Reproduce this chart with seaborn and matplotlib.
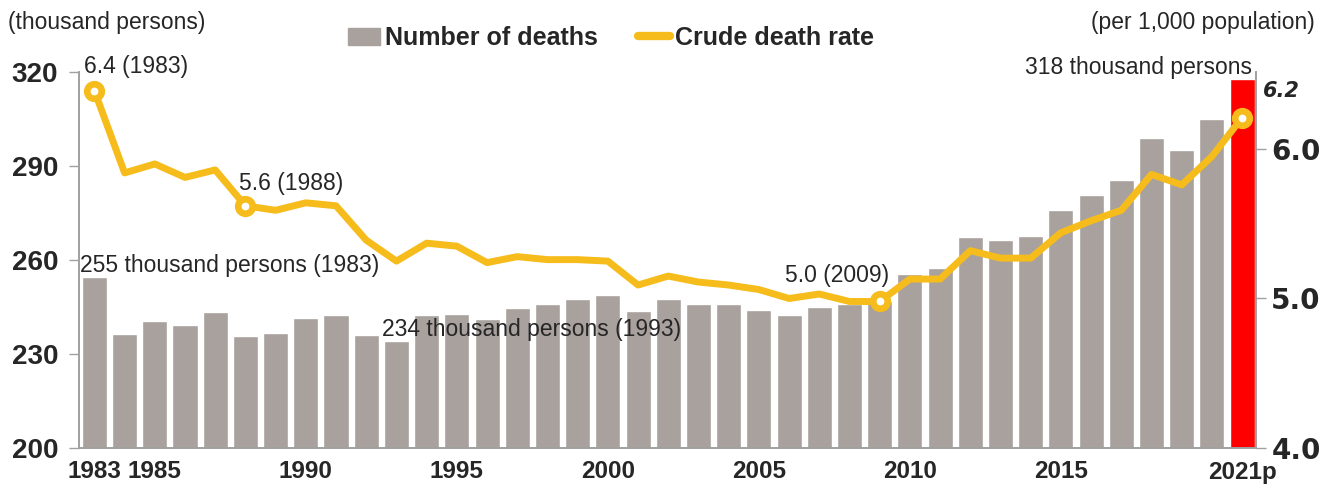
import numpy as np
import matplotlib
matplotlib.use("Agg")
import matplotlib.pyplot as plt
import matplotlib.patches as mpatches
import matplotlib.lines as mlines
import seaborn as sns

# data
years = [str(y) for y in range(1983, 2021)] + ["2021p"]
deaths = [254.6, 236.4, 240.4, 239.3, 243.5, 235.8, 236.8, 241.6, 242.3, 236.2,
          234.3, 242.4, 242.8, 241.1, 244.7, 245.8, 247.7, 248.7, 243.8, 247.5,
          245.8, 245.8, 243.9, 242.3, 244.9, 246.1, 246.9, 255.4, 257.4, 267.2,
          266.3, 267.7, 275.9, 280.8, 285.5, 298.8, 295.1, 304.9, 317.7]
rate = [6.39, 5.84, 5.90, 5.81, 5.86, 5.62, 5.59, 5.64, 5.62, 5.39,
        5.25, 5.37, 5.35, 5.24, 5.28, 5.26, 5.26, 5.25, 5.09, 5.15,
        5.11, 5.09, 5.06, 5.00, 5.03, 4.98, 4.98, 5.13, 5.13, 5.32,
        5.27, 5.27, 5.44, 5.52, 5.59, 5.83, 5.76, 5.95, 6.21]
tick_years = ["1983", "1985", "1990", "1995", "2000", "2005", "2010", "2015", "2021p"]
marked = ["1983", "1988", "2009", "2021p"]

GREY = "#A9A19D"
YELLOW = "#F6BC1B"
RED = "#FF0000"
AXCOL = "#A0A0A0"

sns.set_style("white")
plt.rcParams["font.family"] = ["Liberation Sans", "DejaVu Sans"]

fig = plt.figure(figsize=(13.29, 4.91), dpi=100)
ax = fig.add_axes([79 / 1329, 43 / 491, 1177 / 1329, 376 / 491])
ax2 = ax.twinx()

bar_colors = [GREY] * (len(years) - 1) + [RED]
sns.barplot(x=years, y=deaths, hue=years, palette=bar_colors, legend=False,
            width=0.83, saturation=1, ax=ax, zorder=1)

xpos = np.arange(len(years))
mark_idx = [years.index(m) for m in marked]
sns.lineplot(x=xpos, y=rate, ax=ax2, color=YELLOW, linewidth=5,
             solid_joinstyle="round", solid_capstyle="round",
             marker="o", markevery=mark_idx, markersize=10.5,
             markerfacecolor="white", markeredgecolor=YELLOW, markeredgewidth=4.8)

ax.set_xlim(-0.51, len(years) - 0.54)
ax.set_ylim(200, 320)
ax.set_yticks([200, 230, 260, 290, 320])
ax2.set_ylim(4.0, 6.515)
ax2.set_yticks([4.0, 5.0, 6.0])
ax2.set_yticklabels(["4.0", "5.0", "6.0"])
ax.set_xlabel("")
ax.set_ylabel("")
ax2.set_ylabel("")

ax.set_xticks([years.index(t) for t in tick_years])
ax.set_xticklabels(tick_years, fontsize=17.5, fontweight="bold")
ax.tick_params(axis="x", length=0, pad=9)
ax.tick_params(axis="y", length=7, width=1, color=AXCOL, pad=8, labelsize=20)
for lab in ax.get_yticklabels():
    lab.set_fontweight("bold")
ax2.tick_params(axis="y", length=7, width=1, color=AXCOL, pad=4, labelsize=20)
for lab in ax2.get_yticklabels():
    lab.set_fontweight("bold")
    lab.set_family("DejaVu Sans")

for a in (ax, ax2):
    a.spines["top"].set_visible(False)
    for s in ("left", "right", "bottom"):
        a.spines[s].set_color(AXCOL)
        a.spines[s].set_linewidth(1.2)
ax2.set_zorder(ax.get_zorder() + 1)
ax2.patch.set_visible(False)

# annotations
ann = dict(textcoords="offset pixels", fontsize=16.5, va="center")
ax2.annotate(f"{rate[0]:.1f} ({years[0]})", xy=(0, rate[0]), xytext=(-10, 24), ha="left", **ann)
i = years.index("1988")
ax2.annotate(f"{rate[i]:.1f} (1988)", xy=(i, rate[i]), xytext=(-6, 22), ha="left", **ann)
i = years.index("2009")
ax2.annotate(f"{rate[i]:.1f} (2009)", xy=(i, rate[i]), xytext=(9, 26), ha="right", **ann)
ax.annotate(f"{deaths[0]:.0f} thousand persons (1983)", xy=(0, deaths[0]), xytext=(-14, 11), ha="left", **ann)
i = years.index("1993")
ax.annotate(f"{deaths[i]:.0f} thousand persons (1993)", xy=(i, deaths[i]), xytext=(-14, 11), ha="left", **ann)
ax.annotate(f"{deaths[-1]:.0f} thousand persons", xy=(len(years) - 1, deaths[-1]), xytext=(10, 12), ha="right", **ann)
ax2.annotate(f"{rate[-1]:.1f}", xy=(len(years) - 1, rate[-1]), xytext=(21, 27), ha="left",
             textcoords="offset pixels", fontsize=15, va="center", fontweight="bold",
             style="italic", family="DejaVu Sans")

fig.text(8 / 1329, 1 - 22 / 491, "(thousand persons)", fontsize=16.5, ha="left", va="center")
fig.text(1315 / 1329, 1 - 22 / 491, "(per 1,000 population)", fontsize=16.5, ha="right", va="center")

handles = [mpatches.Patch(color=GREY, label="Number of deaths"),
           mlines.Line2D([], [], color=YELLOW, linewidth=6, solid_capstyle="round",
                         label="Crude death rate")]
fig.legend(handles=handles, loc="center", bbox_to_anchor=(611 / 1329, 1 - 38 / 491),
           ncol=2, frameon=False, handlelength=1.3, handleheight=0.65, handletextpad=0.2,
           columnspacing=1.6, prop={"size": 18, "weight": "bold"})

fig.savefig("out.png", dpi=100)
